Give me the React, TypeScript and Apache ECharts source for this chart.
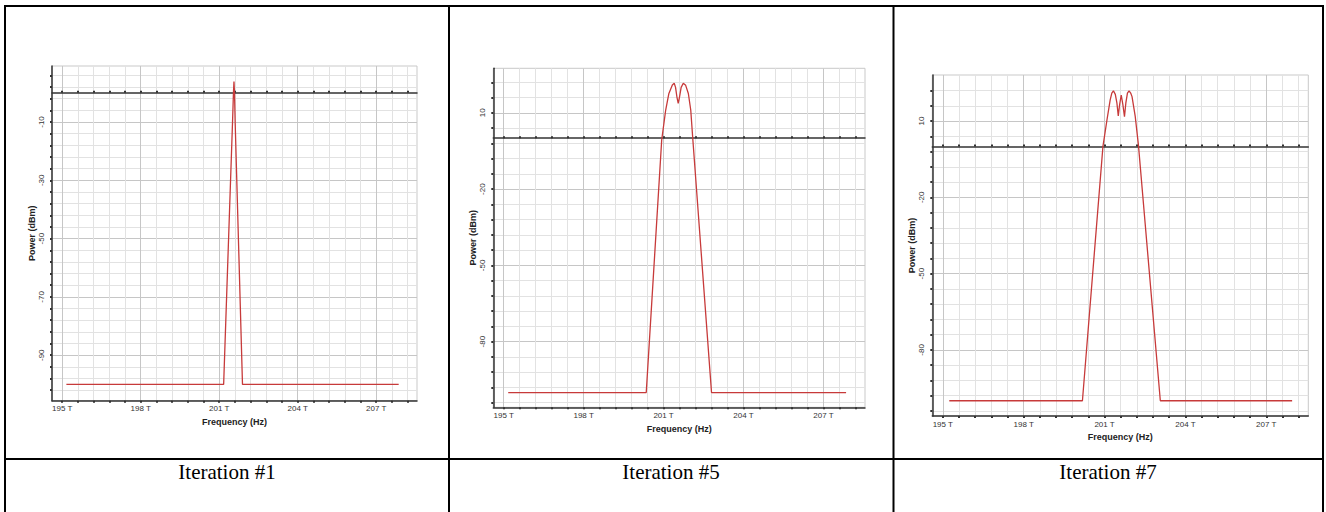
import { useEffect, useRef } from "react";
import * as echarts from "echarts";

// ---- data ----
const freqLabels = [195, 198, 201, 204, 207]; // THz
const captions = ["Iteration #1", "Iteration #5", "Iteration #7"];

const powerLabels1 = [-90, -70, -50, -30, -10];
const powerLabels5 = [-80, -50, -20, 10];
const powerLabels7 = [-80, -50, -20, 10];

// [frequency THz, power dBm]
const iter1: [number, number][] = [
  [195.16, -100], [201.17, -100], [201.51, -10], [201.545, 0], [201.565, 3.9],
  [201.585, 0], [201.61, -10], [201.89, -100], [207.86, -100],
];
const iter5: [number, number][] = [
  [195.17, -100], [200.35, -100], [200.93, -0.7], [201.08, 11.1], [201.2, 17.6],
  [201.33, 20.9], [201.4, 21.6], [201.45, 20.0], [201.5, 16.3], [201.55, 13.7],
  [201.6, 16.3], [201.66, 20.0], [201.74, 21.6], [201.83, 20.8], [201.93, 17.6],
  [202.02, 11.1], [202.1, -0.7], [202.8, -100], [207.85, -100],
];
const iter7: [number, number][] = [
  [195.24, -100], [200.18, -100], [200.94, -0.1], [201.09, 10.4], [201.21, 18.3],
  [201.27, 21.0], [201.33, 21.9], [201.4, 20.5], [201.46, 17.0], [201.51, 12.0],
  [201.56, 16.5], [201.62, 20.2], [201.68, 16.5], [201.74, 11.7], [201.79, 17.0],
  [201.85, 21.0], [201.91, 21.9], [201.97, 21.0], [202.02, 19.6], [202.14, 11.7],
  [202.26, 0.3], [203.07, -100], [207.96, -100],
];

const X_MIN = 194.61;
const X_MAX = 208.56;
const X_STEP = 0.6;

function steps(start: number, step: number, lo: number, hi: number): number[] {
  const out: number[] = [];
  const k0 = Math.ceil((lo - start) / step - 1e-9);
  const k1 = Math.floor((hi - start) / step + 1e-9);
  for (let k = k0; k <= k1; k++) out.push(+(start + k * step).toFixed(6));
  return out;
}

const panels = [
  { data: iter1, yMin: -105.6, yMax: 9.2, yLabels: powerLabels1, yStep: 4, box: { left: 52, top: 66, width: 365, height: 334.7 } },
  { data: iter5, yMin: -105.8, yMax: 27.5, yLabels: powerLabels5, yStep: 6, box: { left: 493.3, top: 68.3, width: 371.7, height: 339 } },
  { data: iter7, yMin: -106, yMax: 28.1, yLabels: powerLabels7, yStep: 6, box: { left: 932.3, top: 75, width: 376, height: 341 } },
];

const captionX = [227, 671, 1108];
const SANS = "Liberation Sans, Arial, sans-serif";
const SERIF = "Liberation Serif, Times New Roman, serif";
const MINOR = "#e2e2e2";
const MAJOR = "#c6c6c6";
const AXIS = "#333";
const RED = "#c73a3a";

export default function App() {
  const ref = useRef<HTMLDivElement>(null);

  useEffect(() => {
    if (!ref.current) return;
    const chart = echarts.init(ref.current, undefined, { renderer: "svg" });
    const xMinor = steps(195, X_STEP, X_MIN, X_MAX);

    const grid: any[] = [];
    const xAxis: any[] = [];
    const yAxis: any[] = [];
    const series: any[] = [];

    panels.forEach((p, i) => {
      grid.push({ ...p.box, show: true, borderColor: "#c9c9c9", borderWidth: 1, backgroundColor: "#fff" });
      const yMinor = steps(p.yLabels[0], p.yStep, p.yMin + 0.3, p.yMax - 0.4);

      // bottom axis
      xAxis.push({
        type: "value", gridIndex: i, min: X_MIN, max: X_MAX, position: "bottom",
        axisLine: { onZero: false, lineStyle: { color: AXIS, width: 1.5 } },
        axisTick: { show: true, customValues: xMinor, length: 2, lineStyle: { color: AXIS, width: 2 } },
        axisLabel: {
          customValues: freqLabels, formatter: (v: number) => `${Math.round(v)} T`,
          fontSize: 8, color: "#333", margin: 4, fontFamily: SANS,
        },
        splitLine: { show: true, lineStyle: { color: MINOR, width: 1 } },
        name: "Frequency (Hz)", nameLocation: "middle", nameGap: 15.5,
        nameTextStyle: { fontWeight: "bold", fontSize: 9, color: "#222", fontFamily: SANS },
      });
      // zero line axis
      xAxis.push({
        type: "value", gridIndex: i, min: X_MIN, max: X_MAX,
        axisLine: { show: true, onZero: true, lineStyle: { color: AXIS, width: 1.5 } },
        axisTick: { show: true, customValues: xMinor, length: 2, lineStyle: { color: AXIS, width: 2 } },
        axisLabel: { show: false },
        splitLine: { show: false },
      });
      // major vertical grid lines
      xAxis.push({
        type: "value", gridIndex: i, min: X_MIN, max: X_MAX,
        axisLine: { show: false, onZero: false },
        axisTick: { show: false, customValues: freqLabels },
        axisLabel: { show: false, customValues: freqLabels },
        splitLine: { show: true, lineStyle: { color: MAJOR, width: 1 } },
      });

      yAxis.push({
        type: "value", gridIndex: i, min: p.yMin, max: p.yMax, position: "left",
        axisLine: { onZero: false, lineStyle: { color: AXIS, width: 1.5 } },
        axisTick: { show: true, customValues: yMinor, length: 2, lineStyle: { color: AXIS, width: 2 } },
        axisLabel: {
          customValues: p.yLabels, rotate: 90, margin: 7, fontSize: 8, color: "#333", fontFamily: SANS,
          formatter: (v: number) => String(Math.round(v)),
        },
        splitLine: { show: true, lineStyle: { color: MINOR, width: 1 } },
        name: "Power (dBm)", nameLocation: "middle", nameGap: 14.5, nameRotate: 90,
        nameTextStyle: { fontWeight: "bold", fontSize: 9, color: "#222", fontFamily: SANS },
      });
      yAxis.push({
        type: "value", gridIndex: i, min: p.yMin, max: p.yMax,
        axisLine: { show: false, onZero: false },
        axisTick: { show: false, customValues: p.yLabels },
        axisLabel: { show: false, customValues: p.yLabels },
        splitLine: { show: true, lineStyle: { color: MAJOR, width: 1 } },
      });

      series.push({
        type: "line", xAxisIndex: i * 3, yAxisIndex: i * 2, data: p.data,
        showSymbol: false, symbol: "none", silent: true,
        lineStyle: { color: RED, width: 1.3 }, z: 5,
      });
    });

    const lineStyle = { stroke: "#000", lineWidth: 2 };
    const graphic: any[] = [
      { type: "line", shape: { x1: 4, y1: 6, x2: 1324, y2: 6 }, style: lineStyle },
      { type: "line", shape: { x1: 4, y1: 459, x2: 1324, y2: 459 }, style: lineStyle },
      { type: "line", shape: { x1: 5, y1: 5, x2: 5, y2: 512 }, style: lineStyle },
      { type: "line", shape: { x1: 449, y1: 5, x2: 449, y2: 512 }, style: lineStyle },
      { type: "line", shape: { x1: 893.5, y1: 5, x2: 893.5, y2: 512 }, style: lineStyle },
      { type: "line", shape: { x1: 1323, y1: 5, x2: 1323, y2: 512 }, style: lineStyle },
      ...captions.map((c, i) => ({
        type: "text", x: captionX[i], y: 472,
        style: { text: c, fill: "#000", font: `21px ${SERIF}`, textAlign: "center", textVerticalAlign: "middle" },
      })),
    ];

    chart.setOption({
      animation: false,
      backgroundColor: "#fff",
      grid, xAxis, yAxis, series, graphic,
    });
    return () => chart.dispose();
  }, []);

  return (
    <div
      ref={ref}
      style={{ position: "absolute", left: 0, top: 0, width: 1326, height: 512, background: "#fff" }}
    />
  );
}
